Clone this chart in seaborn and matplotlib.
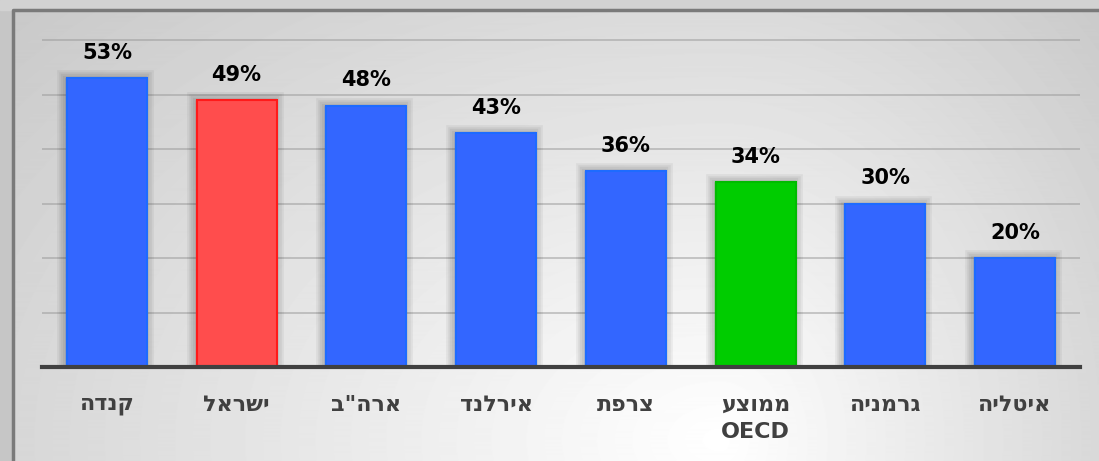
import numpy as np
import matplotlib
matplotlib.use("Agg")
import matplotlib.pyplot as plt
import matplotlib.patheffects as pe
from matplotlib.patches import Rectangle
import seaborn as sns

countries = ["קנדה", "ישראל", 'ארה"ב', "אירלנד", "צרפת", "ממוצע\nOECD", "גרמניה", "איטליה"]
values = [53, 49, 48, 43, 36, 34, 30, 20]
bar_colors = ["#3366FF", "#FF4D4D", "#3366FF", "#3366FF", "#3366FF", "#00CC00", "#3366FF", "#3366FF"]
edge_colors = ["#1E6BFF", "#FF1A1A", "#1E6BFF", "#1E6BFF", "#1E6BFF", "#00BB00", "#1E6BFF", "#1E6BFF"]


def visual(s):
    # matplotlib has no bidi support, so flip the Hebrew lines by hand
    out = []
    for line in s.split("\n"):
        if any("\u0590" <= ch <= "\u05ff" for ch in line):
            line = line[::-1]
        out.append(line)
    return "\n".join(out)


labels = [visual(c) for c in countries]

sns.set_theme(style="white")
plt.rcParams["font.family"] = ["DejaVu Sans"]

fig = plt.figure(figsize=(10.99, 4.61), dpi=100)

# grey background, brightest near the bottom middle
bg = fig.add_axes([0, 0, 1, 1], zorder=-10)
yy, xx = np.mgrid[0:461, 0:1099]
sx = np.where(xx < 720, 900.0, 500.0)
d = np.hypot((xx - 720) / sx, (yy - 440) / 600.0)
shade = np.clip(1.0 - 0.2 * d, 0.74, 1.0)
bg.imshow(shade, cmap="gray", vmin=0, vmax=1, aspect="auto", extent=[0, 1, 0, 1])
bg.set_axis_off()
bg.add_patch(Rectangle((0, 0), 13 / 1099, 1, color="#c6c6c6", zorder=2, transform=bg.transAxes))
bg.add_patch(Rectangle((0, 1 - 10 / 461), 1, 10 / 461, color="#d2d2d2", zorder=2, transform=bg.transAxes))
bg.plot([13 / 1099, 13 / 1099, 1], [0, 1 - 10 / 461, 1 - 10 / 461], color="#7a7a7a", lw=2.5, zorder=3,
        transform=bg.transAxes, solid_capstyle="butt")
bg.set_xlim(0, 1)
bg.set_ylim(0, 1)

ax = fig.add_axes([42 / 1099, (461 - 367) / 461, 1038 / 1099, (367 - 37) / 461])
ax.set_facecolor("none")

sns.barplot(x=labels, y=values, hue=labels, palette=bar_colors, legend=False,
            width=0.617, saturation=1, ax=ax, zorder=3)

# soft glow-like shadow around each bar
glow = [pe.Stroke(linewidth=w, foreground="black", alpha=0.05, offset=(-1.5, 0)) for w in (12, 9, 6, 3)]
for patch, ec in zip(ax.patches, edge_colors):
    patch.set_edgecolor(ec)
    patch.set_linewidth(1.5)
    patch.set_path_effects(glow + [pe.Normal()])

for i, v in enumerate(values):
    ax.annotate(f"{v}%", (i, v), xytext=(0, 11), textcoords="offset points",
                ha="center", va="bottom", fontsize=15, fontweight="bold", color="black")

ax.set_ylim(0, 60.6)
ax.set_xlim(-0.5, 7.5)
ax.set_yticks(np.arange(10, 61, 10))
ax.yaxis.grid(True, color="#9a9a9a", lw=1.2, alpha=0.6, zorder=0)
ax.set_axisbelow(True)
ax.tick_params(axis="y", left=False, labelleft=False)
ax.tick_params(axis="x", bottom=False, pad=14)
for lab in ax.get_xticklabels():
    lab.set_fontsize(16)
    lab.set_fontweight("bold")
    lab.set_color("#404040")
    lab.set_linespacing(1.45)
    lab.set_verticalalignment("top")
for s in ["left", "right", "top"]:
    ax.spines[s].set_visible(False)
ax.spines["bottom"].set_color("#404040")
ax.spines["bottom"].set_linewidth(3)
ax.spines["bottom"].set_zorder(5)
ax.set_xlabel("")
ax.set_ylabel("")

fig.savefig("out.png", dpi=100)
